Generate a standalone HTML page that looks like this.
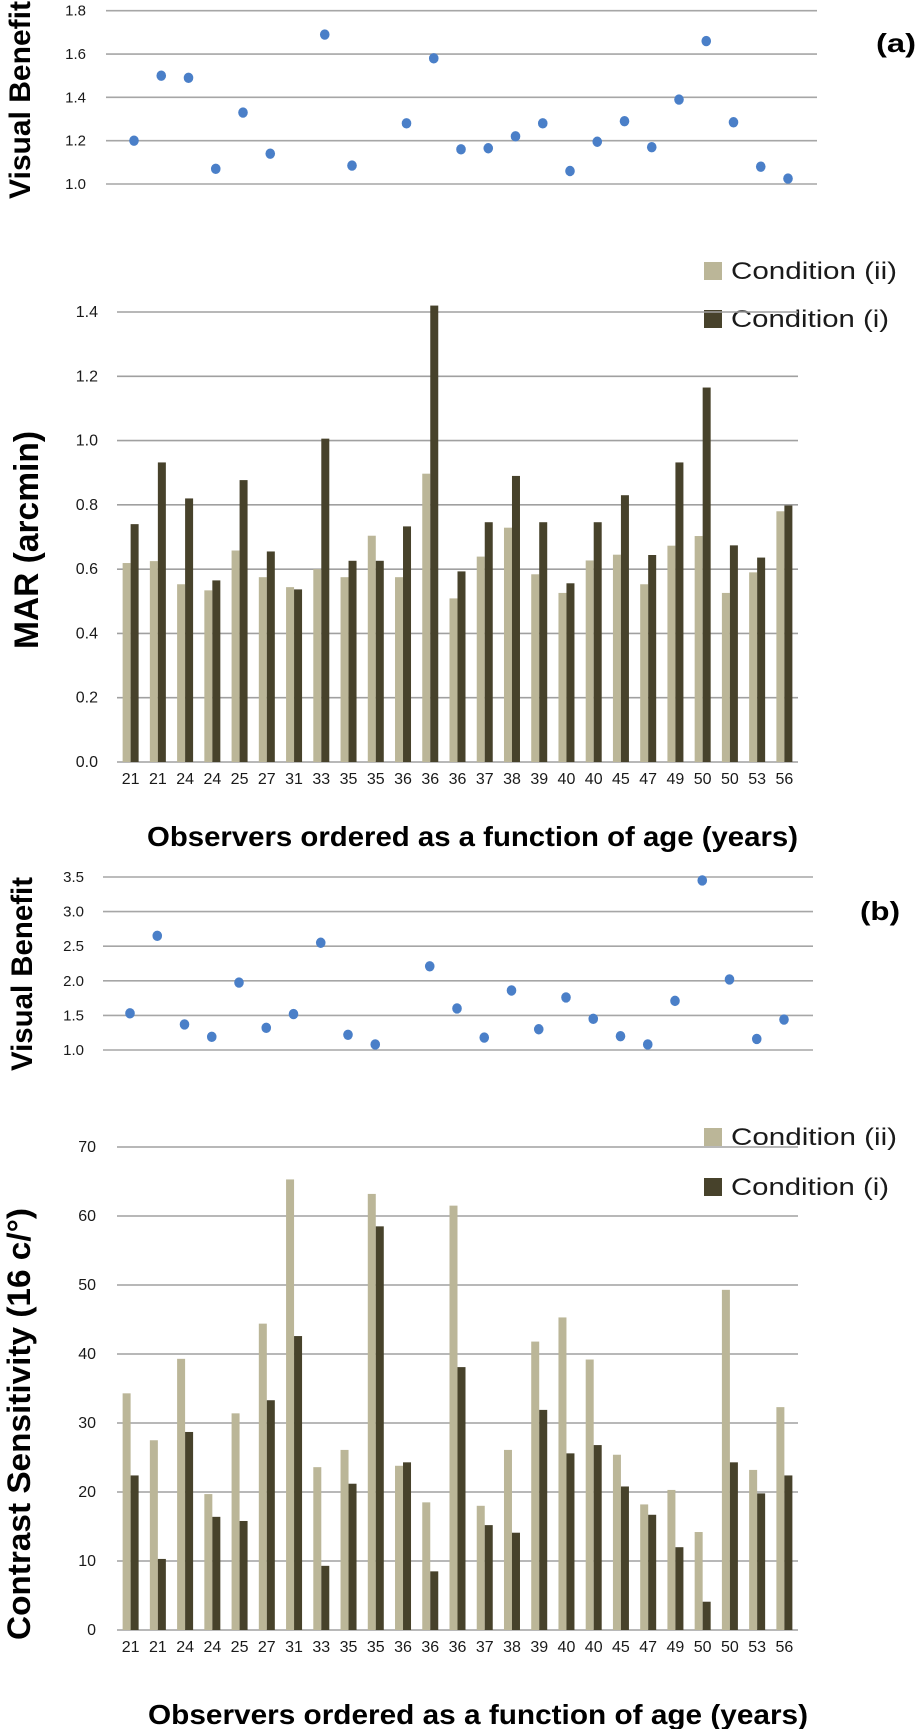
<!DOCTYPE html>
<html><head><meta charset="utf-8"><style>
html,body{margin:0;padding:0;background:#fff;}
svg{display:block;}
text{font-family:"Liberation Sans Narrow","Liberation Sans",sans-serif;fill:#1a1a1a;}
.b{font-family:"Liberation Sans",sans-serif;font-weight:bold;fill:#000;}
</style></head><body>
<svg id="fig" width="920" height="1729" viewBox="0 0 920 1729" xmlns="http://www.w3.org/2000/svg"></svg>
<script>
const ages = ["21","21","24","24","25","27","31","33","35","35","36","36","36","37","38","39","40","40","45","47","49","50","50","53","56"];
const benefitA = [1.20,1.50,1.49,1.07,1.33,1.14,null,1.69,1.085,null,1.28,1.58,1.16,1.165,1.22,1.28,1.06,1.195,1.29,1.17,1.39,1.66,1.285,1.08,1.025];
const marCond2 = [0.619,0.625,0.553,0.534,0.658,0.575,0.544,0.60,0.575,0.704,0.575,0.897,0.509,0.639,0.729,0.584,0.526,0.627,0.645,0.553,0.673,0.703,0.526,0.59,0.78];
const marCond1 = [0.74,0.932,0.82,0.565,0.877,0.655,0.537,1.006,0.626,0.626,0.733,1.42,0.593,0.746,0.89,0.746,0.556,0.746,0.83,0.644,0.932,1.165,0.674,0.636,0.798];
const benefitB = [1.53,2.65,1.37,1.19,1.975,1.32,1.52,2.55,1.22,1.08,null,2.21,1.60,1.18,1.86,1.30,1.76,1.45,1.20,1.08,1.71,3.45,2.02,1.16,1.44];
const csCond2 = [34.3,27.5,39.3,19.7,31.4,44.4,65.3,23.6,26.1,63.2,23.8,18.5,61.5,18.0,26.1,41.8,45.3,39.2,25.4,18.2,20.3,14.2,49.3,23.2,32.3];
const csCond1 = [22.4,10.3,28.7,16.4,15.8,33.3,42.6,9.3,21.2,58.5,24.3,8.5,38.1,15.2,14.1,31.9,25.6,26.8,20.8,16.7,12.0,4.1,24.3,19.8,22.4];
const ticksA = ["1.0","1.2","1.4","1.6","1.8"];
const ticksMAR = ["0.0","0.2","0.4","0.6","0.8","1.0","1.2","1.4"];
const ticksB = ["1.0","1.5","2.0","2.5","3.0","3.5"];
const ticksCS = ["0","10","20","30","40","50","60","70"];

const NS="http://www.w3.org/2000/svg";
const svg=document.getElementById('fig');
function mk(tag,attrs,parent){const e=document.createElementNS(NS,tag);for(const k in attrs)e.setAttribute(k,attrs[k]);(parent||svg).appendChild(e);return e;}
function txt(s,attrs,parent){const e=mk('text',attrs,parent);e.textContent=s;return e;}

function scatter(name,vals,ticks,y0,y1,v0,v1,gx0,gx1,px0,step,labX){
  const g=mk('g',{});
  
  
  const sy=v=>y0+(v-v0)/(v1-v0)*(y1-y0);
  ticks.forEach(t=>{const y=sy(parseFloat(t));
    const l=mk('line',{x1:gx0,x2:gx1,y1:y,y2:y,stroke:'#a6a6a6','stroke-width':1.6},g);
    
    
    const tl=txt(t,{x:labX,y:y+5,'text-anchor':'end','font-size':15},g);
    
    
  });
  vals.forEach((v,i)=>{if(v===null)return;
    const c=mk('ellipse',{cx:px0+i*step,cy:sy(v),rx:4.8,ry:5.2,fill:'#4a7fc8'},g);
    
    
  });
}
function bars(name,a2,a1,ticks,y0,y1,v0,v1,gx0,gx1,labX,labY){
  const g=mk('g',{});
  
  
  const sy=v=>y0+(v-v0)/(v1-v0)*(y1-y0);
  ticks.forEach(t=>{const y=sy(parseFloat(t));
    const l=mk('line',{x1:gx0,x2:gx1,y1:y,y2:y,stroke:'#a0a0a0','stroke-width':1.6},g);
    
    
    const tl=txt(t,{x:labX,y:y+5,'text-anchor':'end','font-size':16},g);
    
    
  });
  const cw=(gx1-gx0)/ages.length;
  ages.forEach((a,i)=>{const cx=gx0+cw*(i+0.5);
    const r2=mk('rect',{x:cx-8,y:sy(a2[i]),width:8,height:sy(v0)-sy(a2[i]),fill:'#bbb698'},g);
    
    
    const r1=mk('rect',{x:cx,y:sy(a1[i]),width:8,height:sy(v0)-sy(a1[i]),fill:'#47422b'},g);
    
    
    const tl=txt(a,{x:cx,y:labY,'text-anchor':'middle','font-size':16},g);
    
    
  });
}
function legend(name,y2,y1){
  const g=mk('g',{});
  
  
  [[y2,'#bbb698','Condition (ii)',166],[y1,'#47422b','Condition (i)',158]].forEach(([y,c,s,w])=>{
    const r=mk('rect',{x:704,y:y-9,width:18,height:18,fill:c},g);
    
    
    const t=txt(s,{x:731,y:y+8,'font-size':24,textLength:w,lengthAdjust:'spacingAndGlyphs'},g);
    
    
  });
}
function vtitle(name,s,cx,cy,len,fs){
  const t=txt(s,{x:0,y:0,'text-anchor':'middle','font-size':fs,class:'b',transform:`translate(${cx},${cy}) rotate(-90)`,textLength:len,lengthAdjust:'spacingAndGlyphs'});
  
  
  return t;
}
function htitle(name,s,x,y,len,fs){
  const t=txt(s,{x:x,y:y,'font-size':fs,class:'b',textLength:len,lengthAdjust:'spacingAndGlyphs'});
  
  
  return t;
}

// Panel (a)
scatter('visual-benefit-a-chart',benefitA,ticksA,184,10.7,1.0,1.8,106,817,134,27.25,86);
vtitle('y-axis-title-visual-benefit-a','Visual  Benefit',30,100,198,30);
htitle('panel-label-a','(a)',876,52,40,26);
legend('legend-mar',271,319);
bars('mar-bar-chart',marCond2,marCond1,ticksMAR,762,312,0,1.4,117,798,98,784);
vtitle('y-axis-title-mar','MAR (arcmin)',38,540,218,34);
htitle('x-axis-title-mar','Observers ordered as a function of age (years)',147,846,651,28);

// Panel (b)
scatter('visual-benefit-b-chart',benefitB,ticksB,1050,877,1.0,3.5,103,813,130,27.25,84);
vtitle('y-axis-title-visual-benefit-b','Visual  Benefit',32,974,194,30);
htitle('panel-label-b','(b)',860,920,40,26);
legend('legend-cs',1137,1187);
bars('contrast-sensitivity-bar-chart',csCond2,csCond1,ticksCS,1630,1147,0,70,117,798,96,1652);
const cs=vtitle('y-axis-title-contrast-sensitivity','Contrast Sensitivity (16 c/°)',30,1424,432,32);
htitle('x-axis-title-cs','Observers ordered as a function of age (years)',148,1724,660,28);
</script>
</body></html>
